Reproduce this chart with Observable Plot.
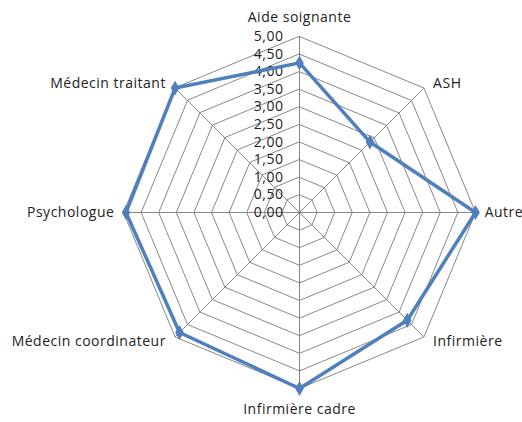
<!DOCTYPE html>
<html>
<head>
<meta charset="utf-8">
<script src="https://cdn.jsdelivr.net/npm/d3@7"></script>
<script src="https://cdn.jsdelivr.net/npm/@observablehq/plot@0.6"></script>
<style>
  html, body { margin: 0; padding: 0; background: #fff; }
</style>
</head>
<body>
<div id="chart"></div>
<script>
const categories = ["Aide soignante", "ASH", "Autre", "Infirmière", "Infirmière cadre", "Médecin coordinateur", "Psychologue", "Médecin traitant"];
const values = [4.25, 2.83, 5.0, 4.33, 5.0, 4.82, 4.93, 5.0];
const tickValues = [0, 0.5, 1, 1.5, 2, 2.5, 3, 3.5, 4, 4.5, 5];
const tickLabels = ["0,00", "0,50", "1,00", "1,50", "2,00", "2,50", "3,00", "3,50", "4,00", "4,50", "5,00"];

const maxV = 5;
const n = categories.length;
const ang = i => i * 2 * Math.PI / n;
const px = (v, i) => v * Math.sin(ang(i));
const py = (v, i) => v * Math.cos(ang(i));

const rings = [];
tickValues.filter(t => t > 0).forEach(t => {
  categories.forEach((c, i) => rings.push({level: t, x: px(t, i), y: py(t, i)}));
});

const pts = values.map((v, i) => ({cat: categories[i], x: px(v, i), y: py(v, i)}));

const labels = categories.map((c, i) => {
  const s = Math.sin(ang(i)), co = Math.cos(ang(i));
  const side = Math.abs(s) > 0.1;
  return {
    text: c,
    x: maxV * s + (side ? Math.sign(s) * 0.26 : 0),
    y: maxV * co + (side ? co * 0.2 : (co > 0 ? 0.55 : -0.6)),
    anchor: side ? (s > 0 ? "start" : "end") : "middle"
  };
});

const chart = Plot.plot({
  width: 522,
  height: 422,
  marginLeft: 123,
  marginRight: 47,
  marginTop: 36,
  marginBottom: 34,
  x: {domain: [-maxV, maxV], axis: null},
  y: {domain: [-maxV, maxV], axis: null},
  style: {fontFamily: "'Open Sans', 'Noto Sans', sans-serif", fontSize: "14px", letterSpacing: "0.5px", background: "#fff", color: "#222"},
  marks: [
    Plot.line(rings, {x: "x", y: "y", z: "level", curve: "linear-closed", stroke: "#888", strokeWidth: 1}),
    Plot.link(categories, {x1: 0, y1: 0, x2: (d, i) => px(maxV, i), y2: (d, i) => py(maxV, i), stroke: "#888", strokeWidth: 1}),
    Plot.text(tickValues, {x: 0, y: d => d, text: (d, i) => tickLabels[i], textAnchor: "end", dx: -16, fill: "#222"}),
    Plot.line(pts, {x: "x", y: "y", curve: "linear-closed", stroke: "#4f7fbc", strokeWidth: 3.5}),
    Plot.dot(pts, {x: "x", y: "y", symbol: "diamond", r: 4.5, fill: "#4f7fbc"}),
    Plot.text(labels.filter(d => d.anchor === "start"), {x: "x", y: "y", text: "text", textAnchor: "start", fill: "#222"}),
    Plot.text(labels.filter(d => d.anchor === "end"), {x: "x", y: "y", text: "text", textAnchor: "end", fill: "#222"}),
    Plot.text(labels.filter(d => d.anchor === "middle"), {x: "x", y: "y", text: "text", textAnchor: "middle", fill: "#222"})
  ]
});
document.getElementById("chart").appendChild(chart);
</script>
</body>
</html>
